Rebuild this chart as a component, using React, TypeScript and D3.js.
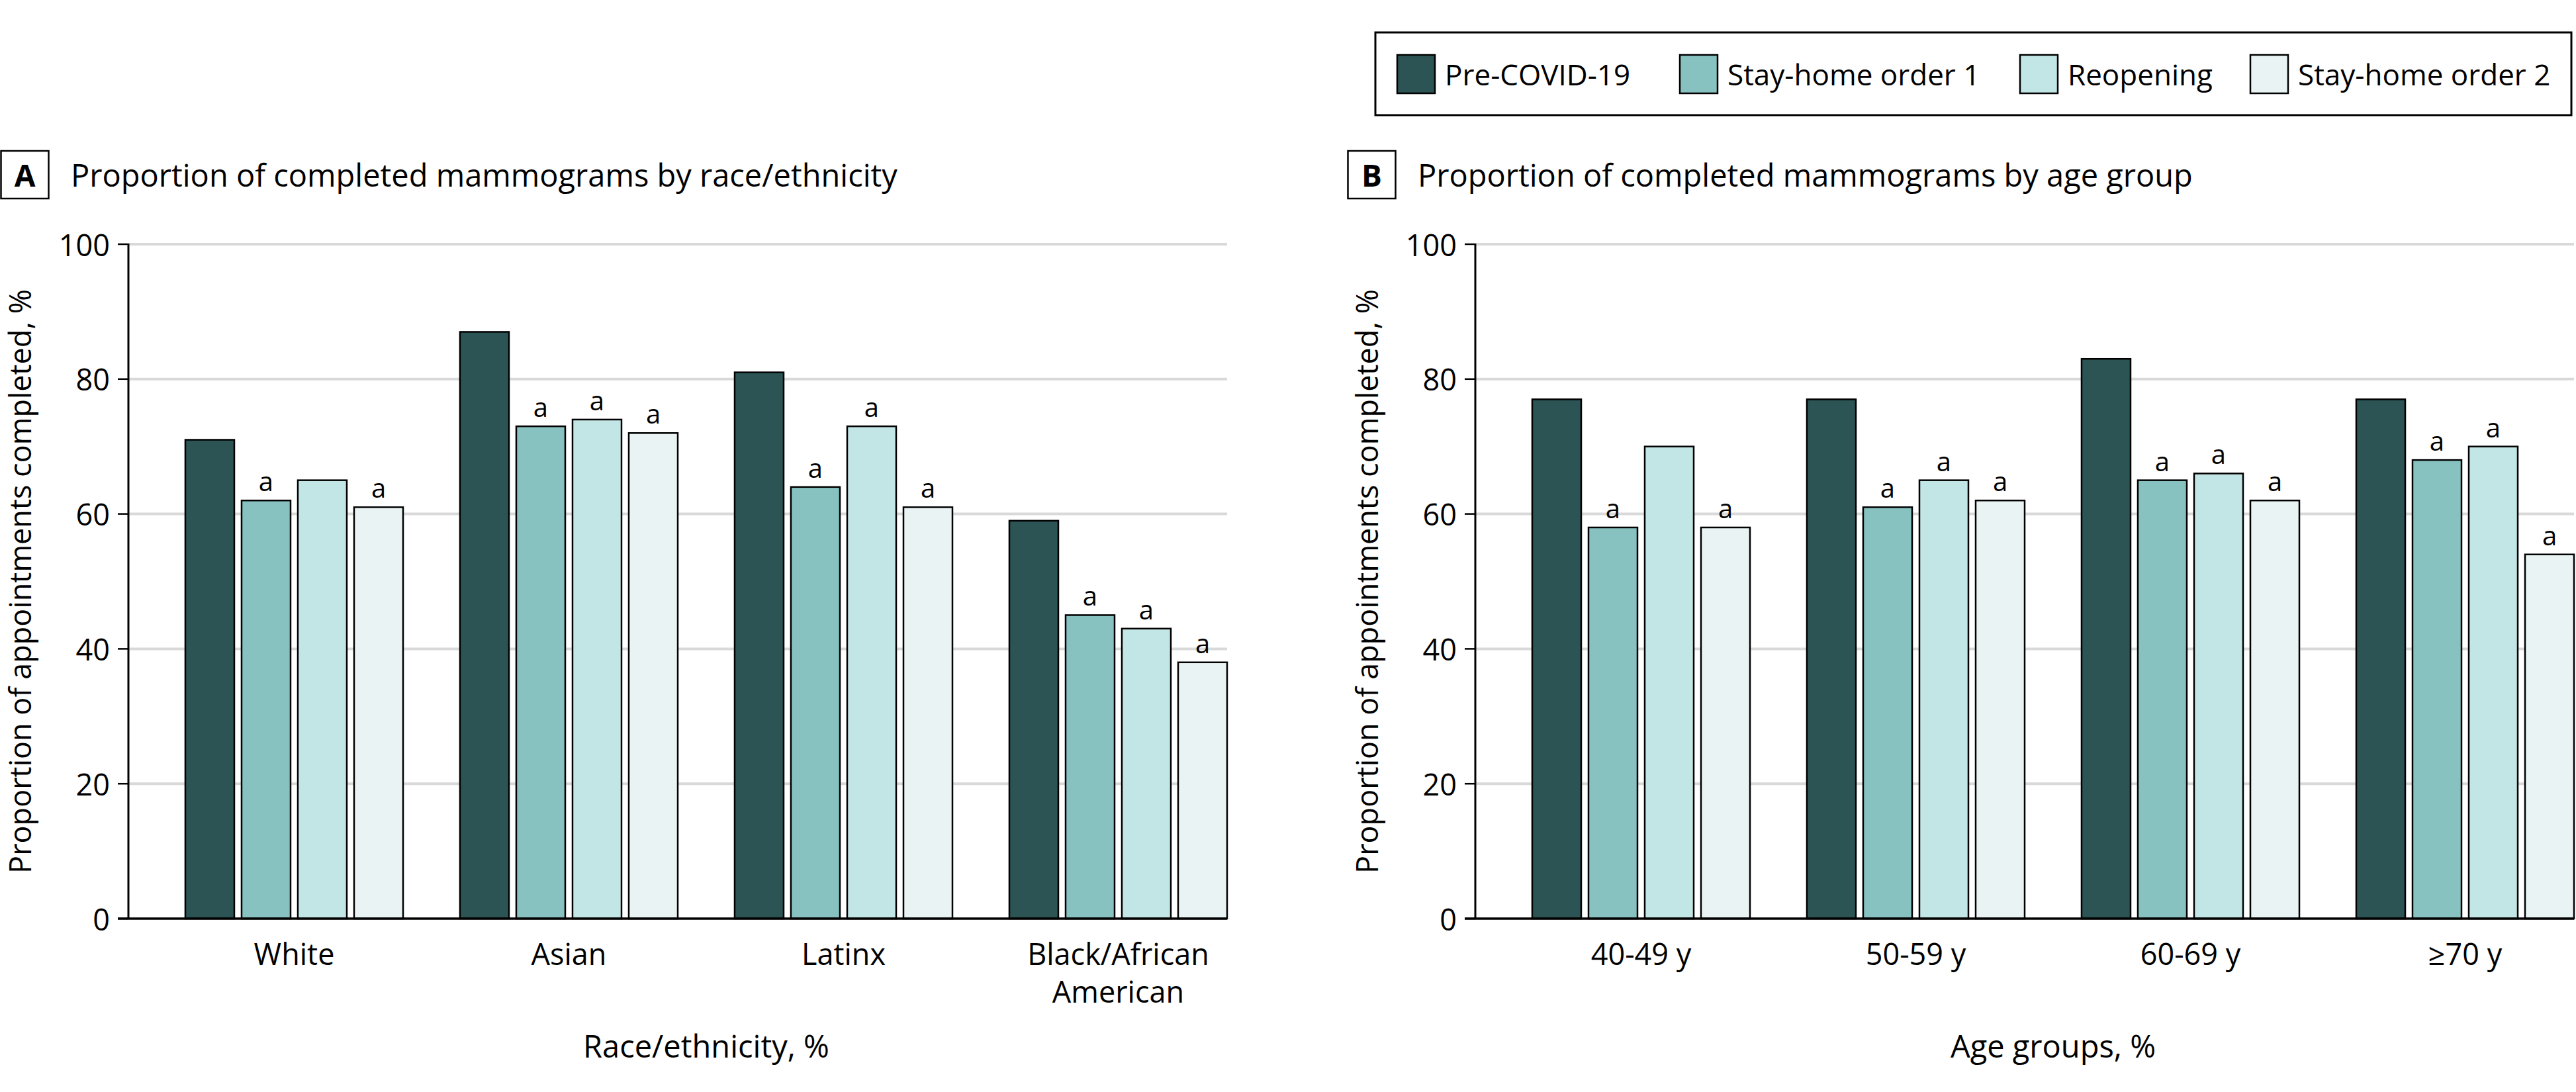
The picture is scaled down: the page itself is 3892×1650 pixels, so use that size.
import React from "react";
import * as d3 from "d3";

// ---------- data ----------
const series = ["Pre-COVID-19", "Stay-home order 1", "Reopening", "Stay-home order 2"];
const seriesColors = ["#2c5454", "#87c2c1", "#c2e6e5", "#eaf3f4"];

const raceCategories = ["White", "Asian", "Latinx", "Black/African American"];
const raceLabelLines = [["White"], ["Asian"], ["Latinx"], ["Black/African", "American"]];
const racePre = [71, 87, 81, 59];
const raceStay1 = [62, 73, 64, 45];
const raceReopen = [65, 74, 73, 43];
const raceStay2 = [61, 72, 61, 38];
const raceSigStay1 = [true, true, true, true];
const raceSigReopen = [false, true, true, true];
const raceSigStay2 = [true, true, true, true];

const ageCategories = ["40-49 y", "50-59 y", "60-69 y", "≥70 y"];
const ageLabelLines = [["40-49 y"], ["50-59 y"], ["60-69 y"], ["≥70 y"]];
const agePre = [77, 77, 83, 77];
const ageStay1 = [58, 61, 65, 68];
const ageReopen = [70, 65, 66, 70];
const ageStay2 = [58, 62, 62, 54];
const ageSigStay1 = [true, true, true, true];
const ageSigReopen = [false, true, true, true];
const ageSigStay2 = [true, true, true, true];

const yTicks = [0, 20, 40, 60, 80, 100];

const FONT = "'Open Sans', 'Noto Sans', sans-serif";

type PanelProps = {
  offsetX: number;
  letter: string;
  title: string;
  categories: string[];
  labelLines: string[][];
  values: number[][];
  sig: boolean[][];
  xTitle: string;
};

function Panel({ offsetX, letter, title, categories, labelLines, values, sig, xTitle }: PanelProps) {
  const axisX = 194;
  const plotRight = 1854;
  const yTop = 369;
  const yBottom = 1388;

  const x0 = d3
    .scaleBand<string>()
    .domain(categories)
    .range([axisX, plotRight])
    .paddingInner(0.2072)
    .paddingOuter(0.1036)
    .align(1);
  const x1 = d3
    .scaleBand<string>()
    .domain(series)
    .range([0, x0.bandwidth()])
    .paddingInner(11 / 85);
  const y = d3.scaleLinear().domain([0, 100]).range([yBottom, yTop]);

  const groupsStart = x0(categories[0]) as number;
  const groupsEnd = (x0(categories[categories.length - 1]) as number) + x0.bandwidth();

  return (
    <g transform={`translate(${offsetX},0)`}>
      {/* panel title */}
      <rect x={1.5} y={228} width={72} height={72} fill="#fff" stroke="#000" strokeWidth={2.5} />
      <text x={37.5} y={264} textAnchor="middle" dominantBaseline="central" fontSize={46} fontWeight="bold" fontFamily={FONT}>
        {letter}
      </text>
      <text x={107} y={282} fontSize={47} fontFamily={FONT} fill="#000">
        {title}
      </text>

      {/* gridlines */}
      {yTicks
        .filter((t) => t > 0)
        .map((t) => (
          <line key={"g" + t} x1={axisX} x2={plotRight} y1={y(t)} y2={y(t)} stroke="#d9d9d9" strokeWidth={4} />
        ))}

      {/* bars */}
      {categories.map((c, ci) => (
        <g key={c} transform={`translate(${x0(c)},0)`}>
          {series.map((s, si) => {
            const v = values[si][ci];
            const bx = x1(s) as number;
            const showA = si > 0 && sig[si - 1][ci];
            return (
              <g key={s}>
                <rect
                  x={bx}
                  y={y(v)}
                  width={x1.bandwidth()}
                  height={y(0) - y(v)}
                  fill={seriesColors[si]}
                  stroke="#000"
                  strokeWidth={2.5}
                />
                {showA && (
                  <text
                    x={bx + x1.bandwidth() / 2}
                    y={y(v) - 14}
                    textAnchor="middle"
                    fontSize={40}
                    fontFamily={FONT}
                    fill="#000"
                  >
                    a
                  </text>
                )}
              </g>
            );
          })}
        </g>
      ))}

      {/* y axis */}
      <line x1={axisX} x2={axisX} y1={yTop - 1} y2={yBottom} stroke="#000" strokeWidth={3} />
      {yTicks.map((t) => (
        <g key={"t" + t}>
          <line x1={axisX - 16} x2={axisX} y1={y(t)} y2={y(t)} stroke="#000" strokeWidth={2.5} />
          <text
            x={axisX - 28}
            y={y(t)}
            textAnchor="end"
            dominantBaseline="central"
            fontSize={45}
            fontFamily={FONT}
            fill="#000"
          >
            {t}
          </text>
        </g>
      ))}
      {/* baseline */}
      <line x1={axisX - 16} x2={plotRight} y1={yBottom} y2={yBottom} stroke="#000" strokeWidth={3.5} />

      {/* y title */}
      <text
        transform={`translate(47,${(yTop + yBottom) / 2}) rotate(-90)`}
        textAnchor="middle"
        fontSize={45}
        fontFamily={FONT}
        fill="#000"
      >
        Proportion of appointments completed, %
      </text>

      {/* category labels */}
      {categories.map((c, ci) => (
        <text
          key={"l" + c}
          x={(x0(c) as number) + x0.bandwidth() / 2}
          y={1458}
          textAnchor="middle"
          fontSize={45}
          fontFamily={FONT}
          fill="#000"
        >
          {labelLines[ci].map((line, li) => (
            <tspan key={li} x={(x0(c) as number) + x0.bandwidth() / 2} dy={li === 0 ? 0 : 57}>
              {line}
            </tspan>
          ))}
        </text>
      ))}

      {/* x title */}
      <text x={(groupsStart + groupsEnd) / 2} y={1598} textAnchor="middle" fontSize={47} fontFamily={FONT} fill="#000">
        {xTitle}
      </text>
    </g>
  );
}

function Legend() {
  const swatchX = [2111, 2538, 3052, 3400];
  return (
    <g>
      <rect x={2078} y={49} width={1807} height={125} fill="#fff" stroke="#000" strokeWidth={3} />
      {series.map((s, i) => (
        <g key={s}>
          <rect x={swatchX[i]} y={83} width={57} height={58} fill={seriesColors[i]} stroke="#000" strokeWidth={2.5} />
          <text x={swatchX[i] + 72} y={112} dominantBaseline="central" fontSize={44} fontFamily={FONT} fill="#000">
            {s}
          </text>
        </g>
      ))}
    </g>
  );
}

export default function App() {
  return (
    <svg
      width={3892}
      height={1650}
      viewBox="0 0 3892 1650"
      style={{ position: "absolute", left: 0, top: 0, background: "#fff" }}
    >
      <rect x={0} y={0} width={3892} height={1650} fill="#fff" />
      <Legend />
      <Panel
        offsetX={0}
        letter="A"
        title="Proportion of completed mammograms by race/ethnicity"
        categories={raceCategories}
        labelLines={raceLabelLines}
        values={[racePre, raceStay1, raceReopen, raceStay2]}
        sig={[raceSigStay1, raceSigReopen, raceSigStay2]}
        xTitle="Race/ethnicity, %"
      />
      <Panel
        offsetX={2035}
        letter="B"
        title="Proportion of completed mammograms by age group"
        categories={ageCategories}
        labelLines={ageLabelLines}
        values={[agePre, ageStay1, ageReopen, ageStay2]}
        sig={[ageSigStay1, ageSigReopen, ageSigStay2]}
        xTitle="Age groups, %"
      />
    </svg>
  );
}
